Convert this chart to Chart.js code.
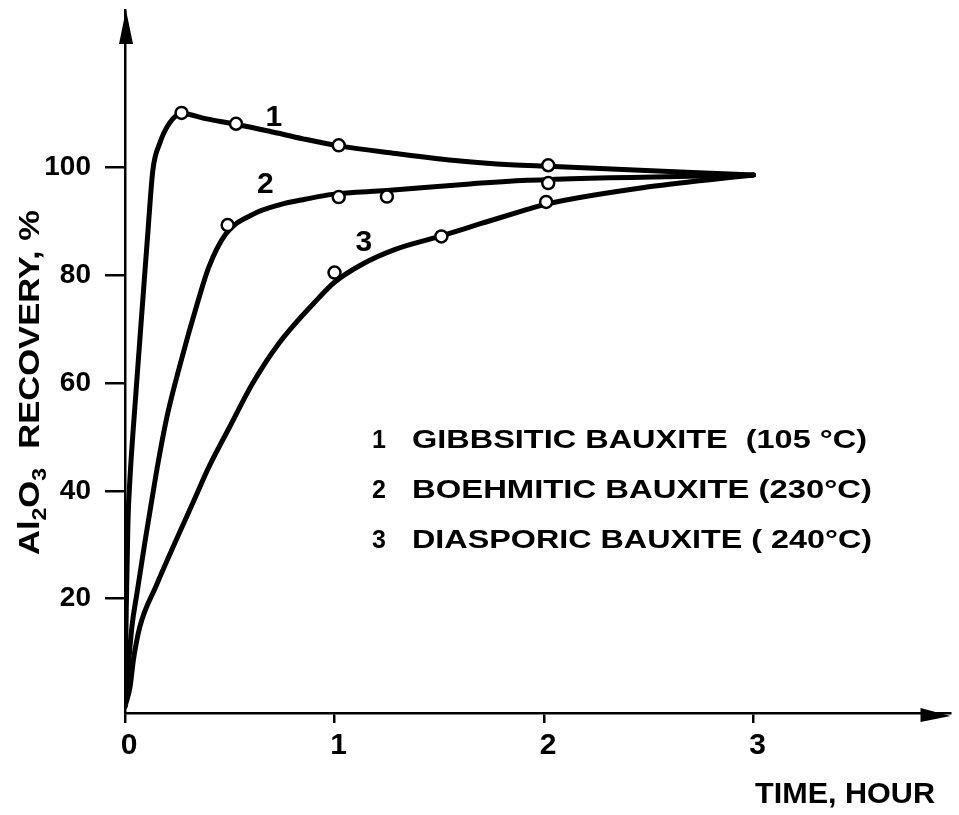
<!DOCTYPE html>
<html>
<head>
<meta charset="utf-8">
<script src="https://cdn.jsdelivr.net/npm/chart.js@4.4.1/dist/chart.umd.min.js"></script>
<style>
  html, body { margin: 0; padding: 0; background: #fff; }
</style>
</head>
<body>
<canvas id="chart" width="959" height="815"></canvas>
<script>
// Curve 1: gibbsitic bauxite
const gibbsiteTime = [0, 0.006, 0.014, 0.024, 0.047, 0.085, 0.11, 0.133, 0.166, 0.214, 0.27, 0.39, 0.53, 0.69, 0.85, 1.02, 1.29, 1.6, 1.84, 2.02, 3.0];
const gibbsiteRecovery = [0, 18, 34, 42.5, 55.5, 75.4, 88.4, 99.5, 104.5, 108.3, 110, 109.0, 108.0, 106.7, 105.3, 104.0, 102.6, 101.2, 100.5, 100.2, 98.6];
const gibbsiteMarkTime = [0.27, 0.53, 1.02, 2.02];
const gibbsiteMarkRec = [110.1, 108.1, 104.1, 100.4];

// Curve 2: boehmitic bauxite
const boehmiteTime = [0, 0.033, 0.057, 0.095, 0.128, 0.157, 0.20, 0.26, 0.35, 0.40, 0.48, 0.61, 0.74, 0.86, 0.99, 1.25, 1.6, 1.92, 3.0];
const boehmiteRecovery = [0, 14.8, 21, 30.5, 38.3, 45, 53.7, 63, 75.4, 81.5, 87.6, 91.3, 93.1, 94.1, 95.0, 95.7, 96.8, 97.6, 98.6];
const boehmiteMarkTime = [0.49, 1.02, 1.25, 2.02];
const boehmiteMarkRec = [89.3, 94.5, 94.6, 97.1];

// Curve 3: diasporic bauxite
const diasporeTime = [0, 0.024, 0.04, 0.071, 0.15, 0.24, 0.33, 0.40, 0.50, 0.61, 0.735, 0.925, 1.0, 1.13, 1.29, 1.51, 1.7, 1.92, 2.01, 2.5, 3.0];
const diasporeRecovery = [0, 3.6, 8.6, 14.8, 22.5, 30.5, 38.3, 44.4, 51.9, 60, 67.4, 75.8, 78.7, 82.0, 84.8, 87.3, 89.6, 92.2, 93.2, 96.4, 98.6];
const diasporeMarkTime = [1.0, 1.51, 2.01];
const diasporeMarkRec = [80.5, 87.2, 93.6];

const timeTicks = [0, 1, 2, 3];
const recoveryTicks = [20, 40, 60, 80, 100];
const legendNames = ['GIBBSITIC BAUXITE  (105 °C)', 'BOEHMITIC BAUXITE (230°C)', 'DIASPORIC BAUXITE ( 240°C)'];

const FONT = '"Liberation Sans", Arial, sans-serif';

function zip(xs, ys) {
  return xs.map((x, i) => ({ x: x, y: ys[i] }));
}

function curve(xs, ys) {
  return {
    data: zip(xs, ys),
    borderColor: '#000',
    borderWidth: 5,
    pointRadius: 0,
    fill: false,
    cubicInterpolationMode: 'monotone',
    borderCapStyle: 'round',
    borderJoinStyle: 'round',
    order: 1
  };
}

function markers(xs, ys) {
  return {
    data: zip(xs, ys),
    showLine: false,
    pointRadius: 6,
    pointBackgroundColor: '#fff',
    pointBorderColor: '#000',
    pointBorderWidth: 2.5,
    order: 0
  };
}

// squeeze/stretch a string to a given width
function fitText(ctx, str, x, y, width) {
  const w = ctx.measureText(str).width;
  ctx.save();
  ctx.translate(x, y);
  ctx.scale(width / w, 1);
  ctx.fillText(str, 0, 0);
  ctx.restore();
}

const decor = {
  id: 'decor',
  afterDraw(chart) {
    const { ctx, chartArea: a, scales } = chart;
    const xs = scales.x, ys = scales.y;
    ctx.save();
    ctx.fillStyle = '#000';

    // arrow heads
    ctx.beginPath();
    ctx.moveTo(a.left + 1, a.top);
    ctx.lineTo(a.left - 6, a.top + 34);
    ctx.lineTo(a.left + 8, a.top + 34);
    ctx.closePath();
    ctx.fill();
    ctx.beginPath();
    ctx.moveTo(a.right, a.bottom + 3);
    ctx.lineTo(a.right - 30, a.bottom - 5);
    ctx.lineTo(a.right - 30, a.bottom + 9);
    ctx.closePath();
    ctx.fill();

    // curve numbers
    ctx.font = 'bold 30px ' + FONT;
    ctx.textAlign = 'center';
    ctx.textBaseline = 'middle';
    ctx.fillText('1', xs.getPixelForValue(0.71), ys.getPixelForValue(109.2));
    ctx.fillText('2', xs.getPixelForValue(0.67), ys.getPixelForValue(96.8));
    ctx.fillText('3', xs.getPixelForValue(1.14), ys.getPixelForValue(86.0));

    // legend text
    ctx.textAlign = 'left';
    ctx.textBaseline = 'alphabetic';
    ctx.font = 'bold 25px ' + FONT;
    const rows = [[448, 867], [498, 872], [548, 872]];
    legendNames.forEach((name, i) => {
      ctx.fillText(String(i + 1), 372, rows[i][0]);
      fitText(ctx, name, 412, rows[i][0], rows[i][1] - 412);
    });

    // x title
    ctx.font = 'bold 30px ' + FONT;
    fitText(ctx, 'TIME, HOUR', 755, 803, 180);

    // y title, rotated, with subscripts
    ctx.translate(39, 555);
    ctx.rotate(-Math.PI / 2);
    const parts = [
      ['Al', 30, 0], ['2', 20, 7], ['O', 30, 0], ['3', 20, 7], ['  RECOVERY, %', 30, 0]
    ];
    let total = 0;
    parts.forEach(p => { ctx.font = 'bold ' + p[1] + 'px ' + FONT; p.push(ctx.measureText(p[0]).width); total += p[3]; });
    ctx.scale(345 / total, 1);
    let pos = 0;
    parts.forEach(p => {
      ctx.font = 'bold ' + p[1] + 'px ' + FONT;
      ctx.fillText(p[0], pos, p[2]);
      pos += p[3];
    });
    ctx.restore();
  }
};

new Chart(document.getElementById('chart'), {
  type: 'line',
  data: {
    datasets: [
      markers(gibbsiteMarkTime, gibbsiteMarkRec),
      markers(boehmiteMarkTime, boehmiteMarkRec),
      markers(diasporeMarkTime, diasporeMarkRec),
      curve(gibbsiteTime, gibbsiteRecovery),
      curve(boehmiteTime, boehmiteRecovery),
      curve(diasporeTime, diasporeRecovery)
    ]
  },
  options: {
    responsive: false,
    animation: false,
    layout: { padding: { top: 10, right: 4, left: 0, bottom: 0 } },
    plugins: { legend: { display: false }, tooltip: { enabled: false } },
    scales: {
      x: {
        type: 'linear',
        min: 0,
        max: 3.94,
        afterBuildTicks: s => { s.ticks = timeTicks.map(v => ({ value: v })); },
        afterFit: s => { s.height = 102; s.paddingLeft = 0; s.paddingRight = 0; },
        grid: { drawOnChartArea: false, tickLength: 10, color: '#000', lineWidth: 2.5 },
        border: { color: '#000', width: 2.5 },
        ticks: { color: '#000', font: { family: FONT, size: 30, weight: 'bold' }, padding: 5, labelOffset: 4, maxRotation: 0, autoSkip: false }
      },
      y: {
        min: -1.2,
        max: 129.2,
        afterBuildTicks: s => { s.ticks = recoveryTicks.map(v => ({ value: v })); },
        afterFit: s => { s.width = 125; s.paddingTop = 0; s.paddingBottom = 0; },
        grid: { drawOnChartArea: false, tickLength: 20, color: '#000', lineWidth: 2.5 },
        border: { color: '#000', width: 2.5 },
        ticks: { color: '#000', font: { family: FONT, size: 28, weight: 'bold' }, padding: 14 }
      }
    }
  },
  plugins: [decor]
});
</script>
</body>
</html>
